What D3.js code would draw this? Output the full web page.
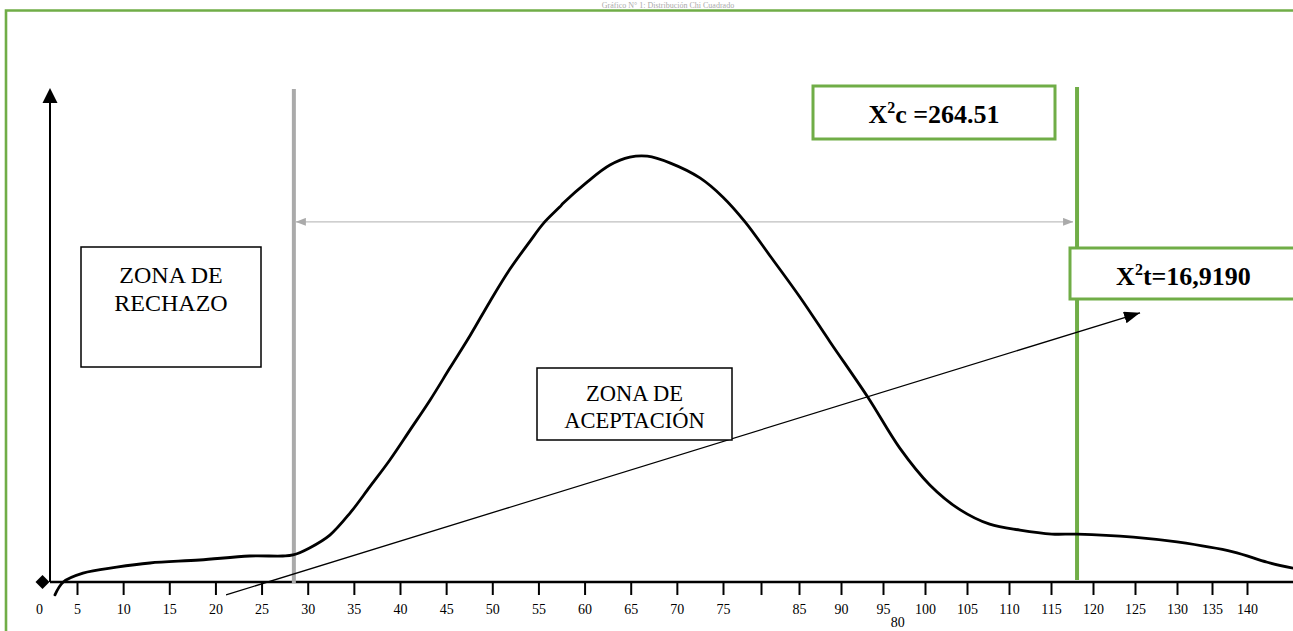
<!DOCTYPE html>
<html>
<head>
<meta charset="utf-8">
<script src="https://cdn.jsdelivr.net/npm/d3@7/dist/d3.min.js"></script>
<style>
  html, body { margin: 0; padding: 0; background: #fff; overflow: hidden; }
  svg { display: block; font-family: "Liberation Serif", "Times New Roman", serif; }
</style>
</head>
<body>
<svg id="chart" width="1293" height="631"></svg>
<script>
// ---------- data ----------
const tickValues = [0, 5, 10, 15, 20, 25, 30, 35, 40, 45, 50, 55, 60, 65, 70, 75, 80, 85, 90, 95, 100, 105, 110, 115, 120, 125, 130, 135, 140];
const tickLabels = ["0", "5", "10", "15", "20", "25", "30", "35", "40", "45", "50", "55", "60", "65", "70", "75", "80", "85", "90", "95", "100", "105", "110", "115", "120", "125", "130", "135", "140"];

// hand-drawn distribution curve (x in axis units, y in relative height 0-100)
const curveX = [2.1, 3.2, 5.65, 9.3, 12.9, 18.3, 23.7, 27.3, 28.4, 30.2, 32.4, 34.6, 36.7, 38.9, 41.1, 43.25, 45.4, 47.6, 49.75, 51.9, 54.1, 55.5, 57.3, 57.7, 60.3, 62.75, 64.9, 66.8, 69.3, 72.5, 75, 77.9, 81.2, 85.1, 88.7, 93.2, 97.0, 100.6, 104.2, 107.7, 111.3, 115.1, 118.1, 124.8, 130, 138, 142.9, 146.6];
const curveY = [-2.6, 0, 1.8, 3.0, 3.85, 4.45, 5.26, 5.26, 5.47, 6.9, 9.5, 14.0, 19.2, 24.7, 30.8, 36.8, 43.3, 49.9, 56.8, 63.3, 69.0, 72.5, 75.9, 76.7, 81.0, 84.4, 86.0, 86.2, 84.8, 81.8, 77.9, 72.9, 66.0, 57.7, 48.6, 37.4, 27.1, 19.6, 14.6, 11.7, 10.5, 9.7, 9.7, 9.1, 8.1, 6.1, 4.0, 2.8];

const criticalLow = 28.5;     // grey boundary line
const criticalHigh = 118.1;   // green boundary line (X²t)
const rangeArrowLevel = 72.9; // height of grey double arrow
const pointerStart = [21.15, -2.6];
const pointerEnd = [125.6, 54.5];

const labelRechazo = ["ZONA DE", "RECHAZO"];
const labelAceptacion = ["ZONA DE", "ACEPTACIÓN"];
const chiCalc = { base: "X", sup: "2", rest: "c =264.51" };
const chiTab = { base: "X", sup: "2", rest: "t=16,9190" };
const titleText = "Gráfico N° 1: Distribución Chi Cuadrado";

// ---------- scales ----------
// hand-drawn axis: spacing is not uniform, so a piecewise linear scale is used
const x = d3.scaleLinear()
  .domain([0, 5, 75, 85, 130, 140])
  .range([39, 77, 723, 799, 1177, 1247]);
const y = d3.scaleLinear().domain([0, 100]).range([582, 88]);

const svg = d3.select("#chart");
const W = 1293, H = 631;
const green = "#70ad47";

// markers
const defs = svg.append("defs");
defs.append("marker").attr("id", "blackHead")
  .attr("viewBox", "0 0 16 12").attr("refX", 16).attr("refY", 6)
  .attr("markerWidth", 16).attr("markerHeight", 12)
  .attr("markerUnits", "userSpaceOnUse").attr("orient", "auto")
  .append("path").attr("d", "M0,0 L16,6 L0,12 Z").attr("fill", "#000");
defs.append("marker").attr("id", "greyHead")
  .attr("viewBox", "0 0 10 8").attr("refX", 10).attr("refY", 4)
  .attr("markerWidth", 10).attr("markerHeight", 8)
  .attr("markerUnits", "userSpaceOnUse").attr("orient", "auto-start-reverse")
  .append("path").attr("d", "M0,0 L10,4 L0,8 Z").attr("fill", "#aaaaaa");

// ---------- frame & title ----------
svg.append("text").attr("x", 668).attr("y", 8).attr("text-anchor", "middle")
  .attr("font-size", 8).attr("fill", "#aaa").text(titleText);
svg.append("path")
  .attr("d", `M6,${H + 5} L6,10.5 L${W + 5},10.5`)
  .attr("fill", "none").attr("stroke", green).attr("stroke-width", 2.6);

// ---------- axes ----------
const y0 = y(0);
// y axis
svg.append("line").attr("x1", 50).attr("x2", 50).attr("y1", y0).attr("y2", y(100) + 14)
  .attr("stroke", "#000").attr("stroke-width", 2);
svg.append("path").attr("d", `M50,${y(100)} L57.5,${y(100) + 15} L42.5,${y(100) + 15} Z`).attr("fill", "#000");
// diamond at origin
svg.append("path").attr("d", `M42.5,${y0 - 7} L49.5,${y0} L42.5,${y0 + 7} L35.5,${y0} Z`).attr("fill", "#000");
// x axis line
svg.append("line").attr("x1", 50).attr("x2", W).attr("y1", y0).attr("y2", y0)
  .attr("stroke", "#000").attr("stroke-width", 2.5);

const axis = d3.axisBottom(x)
  .tickValues(tickValues)
  .tickFormat((d, i) => tickLabels[i])
  .tickSize(13).tickSizeOuter(0);
const gx = svg.append("g").attr("transform", `translate(0,${y0})`).call(axis)
  .attr("font-size", 14).attr("font-family", "Liberation Serif, Times New Roman, serif");
gx.select(".domain").remove();
gx.selectAll(".tick line").attr("stroke", "#000").attr("stroke-width", 2);
gx.selectAll(".tick text")
  .attr("dy", null).attr("y", 32)
  .attr("font-size", 14).attr("fill", "#000");
gx.selectAll(".tick").filter(d => d === 0).select("line").remove();
// the "80" label is drawn displaced (below 95/100) in the original
gx.selectAll(".tick").filter(d => d === 80).select("text")
  .attr("x", x(96.7) - x(80)).attr("y", 45);

// ---------- boundary lines ----------
svg.append("line").attr("x1", x(criticalLow)).attr("x2", x(criticalLow))
  .attr("y1", y(100) + 1).attr("y2", y0 + 1)
  .attr("stroke", "#aaaaaa").attr("stroke-width", 4);
svg.append("line").attr("x1", x(criticalHigh)).attr("x2", x(criticalHigh))
  .attr("y1", y(100) - 1).attr("y2", y0 - 2)
  .attr("stroke", green).attr("stroke-width", 4);

// grey double arrow
svg.append("line")
  .attr("x1", x(criticalLow) + 2).attr("x2", x(criticalHigh) - 4)
  .attr("y1", y(rangeArrowLevel)).attr("y2", y(rangeArrowLevel))
  .attr("stroke", "#bfbfbf").attr("stroke-width", 1.2)
  .attr("marker-start", "url(#greyHead)").attr("marker-end", "url(#greyHead)");

// ---------- curve ----------
const pts = curveX.map((d, i) => [d, curveY[i]]);
svg.append("path").datum(pts)
  .attr("d", d3.line().x(d => x(d[0])).y(d => y(d[1])).curve(d3.curveCatmullRom.alpha(0.5)))
  .attr("fill", "none").attr("stroke", "#000").attr("stroke-width", 2.8)
  .attr("stroke-linecap", "round").attr("stroke-linejoin", "round");

// ---------- boxes ----------
function textBox(x0, y0b, w, h, stroke, sw) {
  svg.append("rect").attr("x", x0).attr("y", y0b).attr("width", w).attr("height", h)
    .attr("fill", "#fff").attr("stroke", stroke).attr("stroke-width", sw);
}
textBox(81, 247, 180, 120, "#000", 1.5);
labelRechazo.forEach((t, i) => {
  svg.append("text").attr("x", 171).attr("y", 283 + i * 28).attr("text-anchor", "middle")
    .attr("font-size", 24).attr("fill", "#000").text(t);
});

// ---------- pointer arrow ----------
svg.append("line")
  .attr("x1", x(pointerStart[0])).attr("y1", y(pointerStart[1]))
  .attr("x2", x(pointerEnd[0])).attr("y2", y(pointerEnd[1]))
  .attr("stroke", "#000").attr("stroke-width", 1.3)
  .attr("marker-end", "url(#blackHead)");

textBox(537, 368, 195, 72, "#000", 1.5);
labelAceptacion.forEach((t, i) => {
  svg.append("text").attr("x", 634.5).attr("y", 401 + i * 27).attr("text-anchor", "middle")
    .attr("font-size", 22.5).attr("fill", "#000").text(t);
});

function chiBox(bx, by, bw, bh, cx, baseY, lab) {
  textBox(bx, by, bw, bh, green, 3);
  const t = svg.append("text").attr("x", cx).attr("y", baseY).attr("text-anchor", "middle")
    .attr("font-size", 26).attr("font-weight", "bold").attr("fill", "#000");
  t.append("tspan").text(lab.base);
  t.append("tspan").attr("font-size", 16).attr("dy", -10).text(lab.sup);
  t.append("tspan").attr("dy", 10).text(lab.rest);
}
chiBox(813, 86, 242, 53, 934, 123, chiCalc);
chiBox(1070, 248, 240, 51, 1183.5, 285, chiTab);
</script>
</body>
</html>
